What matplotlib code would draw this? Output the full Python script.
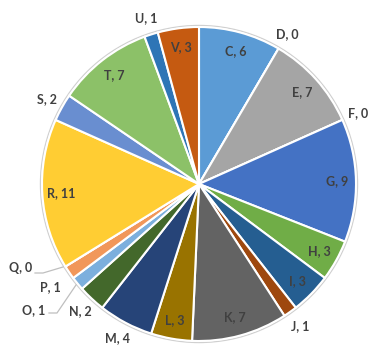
"""
Pie chart of category counts with Excel-style data labels.
"""

import numpy as np
import matplotlib.pyplot as plt
from matplotlib.patches import Circle

categories = ["C", "D", "E", "F", "G", "H", "I", "J", "K", "L",
              "M", "N", "O", "P", "Q", "R", "S", "T", "U", "V"]
counts = [6, 0, 7, 0, 9, 3, 3, 1, 7, 3, 4, 2, 1, 1, 0, 11, 2, 7, 1, 3]
colors = ["#5B9BD5", "#ED7D31", "#A5A5A5", "#FFC000", "#4472C4", "#70AD47",
          "#255E91", "#9E480E", "#636363", "#997300", "#264478", "#43682B",
          "#7CAFDD", "#F1975A", "#B7B7B7", "#FFCD33", "#698ED0", "#8CC168",
          "#2E75B6", "#C55A11"]

# labels drawn outside the pie
outside = {"D", "F", "J", "M", "N", "S", "U"}
# labels placed by hand (pixel coords, y down) with leader lines
manual = {"O": (34, 310), "P": (50, 287), "Q": (21, 268)}
leaders = {"O": [(49, 313), (57, 313), (76, 285)],
           "Q": [(35, 273), (43, 273), (63, 267)]}

W, H = 368, 349
cx, cy, R = 199, H - 184, 157

fig = plt.figure(figsize=(W / 100, H / 100), dpi=100)
ax = fig.add_axes([0, 0, 1, 1])

ax.add_patch(Circle((cx, cy), R + 1.5, facecolor="none",
                    edgecolor="#d0d0d0", lw=1.0, zorder=0))

wedges, _ = ax.pie(counts, colors=colors, startangle=90, counterclock=False,
                   center=(cx, cy), radius=R, frame=True,
                   wedgeprops=dict(edgecolor="white", linewidth=1.5))
ax.set_xlim(0, W)
ax.set_ylim(0, H)
ax.set_aspect("equal")
ax.axis("off")

font = dict(fontsize=9, fontweight="bold", color="#404040",
            family=["Lato", "DejaVu Sans"], ha="center", va="center")

for w, cat, n in zip(wedges, categories, counts):
    text = f"{cat}, {n}"
    if cat in manual:
        px, py = manual[cat]
        ax.text(px, H - py, text, **font)
        continue
    mid = np.deg2rad((w.theta1 + w.theta2) / 2)
    rf = 1.11 if cat in outside else 0.88
    ax.text(cx + rf * R * np.cos(mid), cy + rf * R * np.sin(mid), text, **font)

for cat, pts in leaders.items():
    xs = [p[0] for p in pts]
    ys = [H - p[1] for p in pts]
    ax.plot(xs, ys, color="#bfbfbf", lw=0.9)

fig.savefig("out.png", dpi=100)
